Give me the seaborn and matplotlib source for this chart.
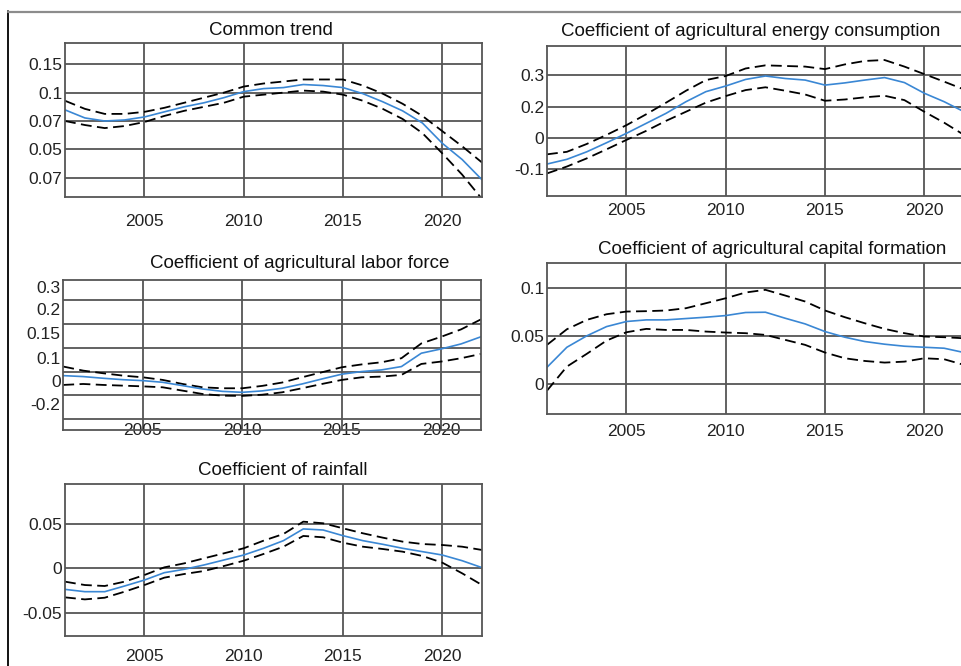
import numpy as np
import pandas as pd
import seaborn as sns
import matplotlib
matplotlib.use("Agg")
import matplotlib.pyplot as plt
from matplotlib.lines import Line2D
from matplotlib.ticker import FixedLocator, FixedFormatter, NullFormatter

sns.set_theme(style="white")
plt.rcParams["font.family"] = ["Liberation Sans", "DejaVu Sans"]

years = list(range(2001, 2023))
xticks = [2005, 2010, 2015, 2020]

# Common trend
trend_mid = [0.0696, 0.0554, 0.0500, 0.0518, 0.0571, 0.0661, 0.0750, 0.0821, 0.0911, 0.1018, 0.1071,
             0.1089, 0.1143, 0.1125, 0.1089, 0.0982, 0.0839, 0.0679, 0.0464, 0.0107, -0.0179, -0.0536]
trend_hi = [0.0857, 0.0714, 0.0625, 0.0625, 0.0661, 0.0732, 0.0821, 0.0911, 0.1000, 0.1107, 0.1161,
            0.1196, 0.1232, 0.1232, 0.1232, 0.1125, 0.0982, 0.0804, 0.0589, 0.0321, 0.0054, -0.0232]
trend_lo = [0.0500, 0.0429, 0.0375, 0.0411, 0.0482, 0.0589, 0.0679, 0.0750, 0.0821, 0.0929, 0.0964,
            0.1000, 0.1036, 0.1018, 0.0964, 0.0857, 0.0714, 0.0536, 0.0286, -0.0071, -0.0446, -0.0875]
trend_ticks = [0.15, 0.1, 0.05, 0.0, -0.05]
trend_labels = ["0.15", "0.1", "0.07", "0.05", "0.07"]

# Agricultural energy consumption
energy_mid = [0.017, 0.032, 0.056, 0.085, 0.115, 0.147, 0.179, 0.216, 0.248, 0.266, 0.287,
              0.298, 0.290, 0.285, 0.269, 0.276, 0.285, 0.293, 0.277, 0.243, 0.216, 0.184]
energy_hi = [0.048, 0.056, 0.081, 0.110, 0.141, 0.176, 0.213, 0.251, 0.285, 0.298, 0.322,
             0.332, 0.330, 0.328, 0.320, 0.335, 0.346, 0.349, 0.328, 0.304, 0.280, 0.255]
energy_lo = [-0.013, 0.009, 0.035, 0.064, 0.094, 0.123, 0.155, 0.184, 0.213, 0.234, 0.253,
             0.262, 0.251, 0.239, 0.219, 0.223, 0.230, 0.235, 0.221, 0.184, 0.149, 0.110]
energy_ticks = [0.3, 0.2, 0.1, 0.0]
energy_labels = ["0.3", "0.2", "0", "-0.1"]

# Agricultural labor force
labor_mid = [-0.017, -0.021, -0.028, -0.034, -0.038, -0.045, -0.059, -0.073, -0.083, -0.087, -0.081,
             -0.070, -0.052, -0.031, -0.011, 0.000, 0.007, 0.021, 0.077, 0.095, 0.116, 0.146]
labor_hi = [0.021, 0.004, -0.007, -0.017, -0.024, -0.035, -0.052, -0.066, -0.070, -0.070, -0.060,
            -0.046, -0.024, -0.003, 0.018, 0.030, 0.039, 0.056, 0.118, 0.146, 0.177, 0.219]
labor_lo = [-0.056, -0.052, -0.056, -0.059, -0.062, -0.066, -0.080, -0.094, -0.101, -0.102, -0.097,
            -0.087, -0.070, -0.052, -0.035, -0.024, -0.021, -0.014, 0.032, 0.042, 0.056, 0.074]
labor_ticks = [0.3, 0.2, 0.1, 0.0, -0.1, -0.2]
labor_label_pos = [0.356, 0.261, 0.163, 0.058, -0.038, -0.136]
labor_labels = ["0.3", "0.2", "0.15", "0.1", "0", "-0.2"]

# Agricultural capital formation
capital_mid = [0.0174, 0.0383, 0.0502, 0.0599, 0.0652, 0.0669, 0.0669, 0.0683, 0.0697, 0.0714, 0.0746,
               0.0749, 0.0686, 0.0627, 0.0547, 0.0488, 0.0443, 0.0415, 0.0394, 0.0383, 0.0373, 0.0328]
capital_hi = [0.0408, 0.0571, 0.0669, 0.0728, 0.0756, 0.0760, 0.0767, 0.0791, 0.0843, 0.0895, 0.0955,
              0.0983, 0.0923, 0.0861, 0.0767, 0.0697, 0.0634, 0.0575, 0.0530, 0.0495, 0.0488, 0.0477]
capital_lo = [-0.0070, 0.0181, 0.0314, 0.0453, 0.0540, 0.0575, 0.0564, 0.0564, 0.0547, 0.0537, 0.0530,
              0.0512, 0.0460, 0.0408, 0.0328, 0.0268, 0.0240, 0.0223, 0.0233, 0.0268, 0.0258, 0.0199]
capital_ticks = [0.1, 0.05, 0.0]
capital_labels = ["0.1", "0.05", "0"]

# Rainfall
rain_mid = [-0.0237, -0.0263, -0.0263, -0.0199, -0.0132, -0.0049, -0.0011, 0.0038, 0.0094, 0.0150, 0.0226,
            0.0312, 0.0444, 0.0432, 0.0368, 0.0312, 0.0271, 0.0226, 0.0188, 0.0150, 0.0086, 0.0008]
rain_hi = [-0.0150, -0.0188, -0.0199, -0.0150, -0.0075, 0.0011, 0.0056, 0.0113, 0.0169, 0.0226, 0.0312,
           0.0387, 0.0526, 0.0508, 0.0451, 0.0395, 0.0346, 0.0301, 0.0274, 0.0263, 0.0244, 0.0207]
rain_lo = [-0.0327, -0.0350, -0.0331, -0.0263, -0.0188, -0.0105, -0.0064, -0.0030, 0.0026, 0.0086, 0.0162,
           0.0244, 0.0365, 0.0350, 0.0289, 0.0244, 0.0218, 0.0188, 0.0139, 0.0064, -0.0056, -0.0188]
rain_ticks = [0.05, 0.0, -0.05]
rain_labels = ["0.05", "0", "-0.05"]

W, H = 961, 666
fig = plt.figure(figsize=(W / 100, H / 100), dpi=100)

grid_col = "#555555"
blue = "#3a87d4"


def make_ax(x0, y0, x1, y1):
    # pixel box -> figure fraction
    return fig.add_axes([x0 / W, 1 - y1 / H, (x1 - x0) / W, (y1 - y0) / H])


def draw_panel(ax, title, tx, tpad, mid, lo, hi, yticks, ylabels, ylim, xpad, label_pos=None):
    df = pd.DataFrame({"year": years, "mid": mid, "lo": lo, "hi": hi})
    sns.lineplot(data=df, x="year", y="hi", ax=ax, color="black", lw=1.3, dashes=False)
    sns.lineplot(data=df, x="year", y="lo", ax=ax, color="black", lw=1.3)
    sns.lineplot(data=df, x="year", y="mid", ax=ax, color=blue, lw=1.2)
    for ln in ax.lines[:2]:
        ln.set_dashes((6, 3))
    ax.set_xlim(2001, 2022)
    ax.set_ylim(*ylim)
    ax.set_xticks(xticks)
    ax.set_xticklabels([str(x) for x in xticks])
    ax.yaxis.set_major_locator(FixedLocator(yticks))
    if label_pos is None:
        ax.yaxis.set_major_formatter(FixedFormatter(ylabels))
    else:
        ax.yaxis.set_major_formatter(NullFormatter())
        ax.yaxis.set_minor_locator(FixedLocator(label_pos))
        ax.yaxis.set_minor_formatter(FixedFormatter(ylabels))
        ax.tick_params(axis="y", which="minor", length=0, pad=2, labelsize=12.5, colors="#222222")
    ax.grid(True, which="major", color=grid_col, lw=1.3)
    ax.tick_params(axis="x", length=0, pad=xpad, labelsize=12.5, colors="#222222")
    ax.tick_params(axis="y", which="major", length=0, pad=2, labelsize=12.5, colors="#222222")
    for sp in ax.spines.values():
        sp.set_color(grid_col)
        sp.set_linewidth(1.3)
    ax.set_xlabel("")
    ax.set_ylabel("")
    ax.set_title(title, fontsize=13.5, x=tx, pad=tpad, color="#111111")


ax1 = make_ax(65, 43, 482, 197)
draw_panel(ax1, "Common trend", 0.494, 5.8, trend_mid, trend_lo, trend_hi,
           trend_ticks, trend_labels, (-0.084, 0.1875), 12)

ax2 = make_ax(547, 45.7, 964, 196)
draw_panel(ax2, "Coefficient of agricultural energy consumption", 0.489, 7, energy_mid, energy_lo, energy_hi,
           energy_ticks, energy_labels, (-0.085, 0.3947), 5)

ax3 = make_ax(63.3, 280, 481, 430)
draw_panel(ax3, "Coefficient of agricultural labor force", 0.567, 9, labor_mid, labor_lo, labor_hi,
           labor_ticks, labor_labels, (-0.245, 0.384), -5, label_pos=labor_label_pos)

ax4 = make_ax(547, 263.3, 964, 414)
draw_panel(ax4, "Coefficient of agricultural capital formation", 0.541, 6.7, capital_mid, capital_lo, capital_hi,
           capital_ticks, capital_labels, (-0.0314, 0.126), 7)

ax5 = make_ax(65, 484.3, 482, 635.7)
draw_panel(ax5, "Coefficient of rainfall", 0.523, 6.7, rain_mid, rain_lo, rain_hi,
           rain_ticks, rain_labels, (-0.0759, 0.0947), 9.4)

# outer frame remnants
fig.add_artist(Line2D([8 / W, 8 / W], [0, 1 - 11 / H], color="black", lw=1.3))
fig.add_artist(Line2D([8 / W, 1], [1 - 11.5 / H, 1 - 11.5 / H], color="#8c8c8c", lw=1.6))

fig.savefig("out.png", dpi=100)
